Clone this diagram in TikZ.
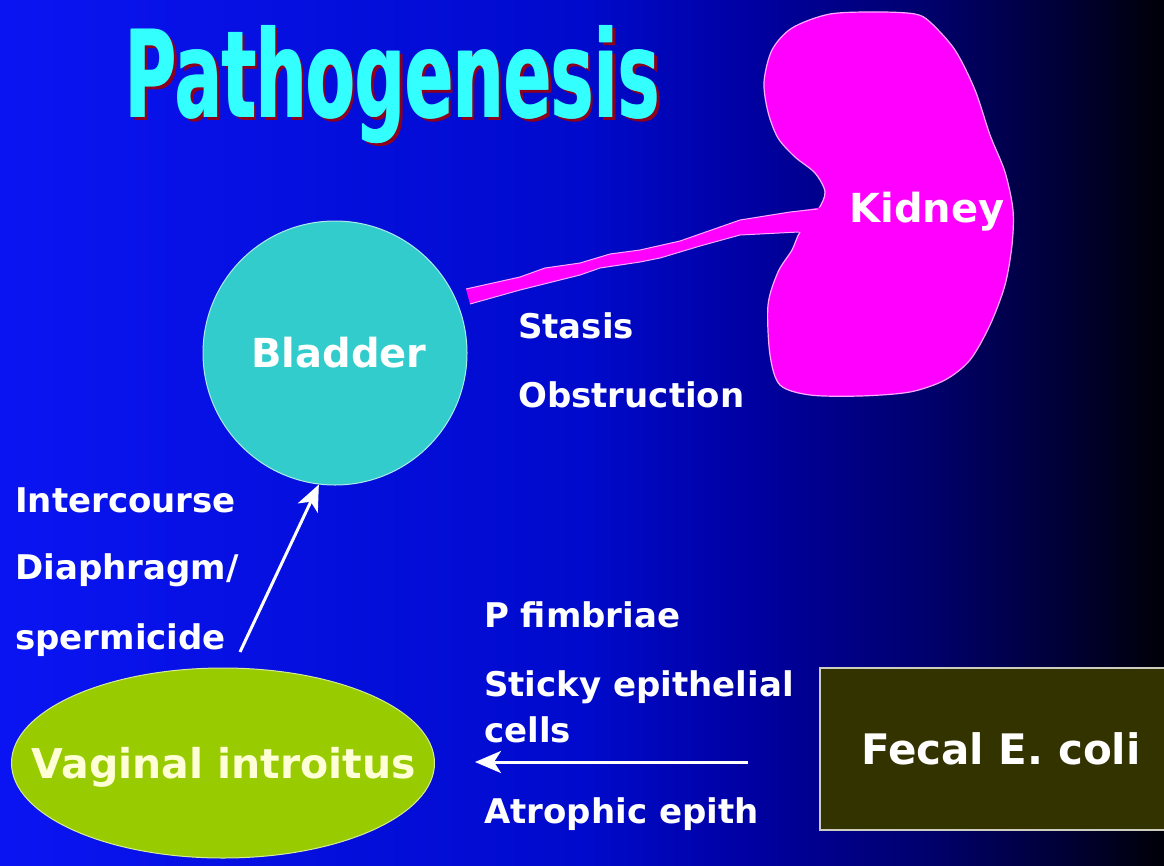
\documentclass[tikz,border=0pt]{standalone}
\usepackage{fontspec}
\setmainfont{DejaVu Sans}
\usepackage{graphicx}
\usetikzlibrary{arrows.meta, shapes.geometric}

\definecolor{bladdercyan}{RGB}{51,204,204}
\definecolor{kidneypink}{RGB}{255,0,255}
\definecolor{kidneyrim}{RGB}{255,170,255}
\definecolor{introgreen}{RGB}{153,204,0}
\definecolor{fecalbrown}{RGB}{51,51,0}
\definecolor{titlecyan}{RGB}{51,255,255}
\definecolor{titleshadow}{RGB}{140,0,30}
\definecolor{introtext}{RGB}{255,255,215}

% tikz maps the 25bp--75bp band of the shading onto the path
\pgfdeclarehorizontalshading{slidebg}{100bp}{rgb(0bp)=(0.04,0.08,0.95); rgb(25bp)=(0.04,0.08,0.95); rgb(50bp)=(0,0.04,0.80); rgb(57bp)=(0,0,0.64); rgb(65bp)=(0,0,0.42); rgb(71bp)=(0,0,0.20); rgb(75bp)=(0,0,0.03); rgb(100bp)=(0,0,0.03)}

\newcommand{\titleword}{\resizebox{535pt}{92pt}{\bfseries Pathogenesis}}

\begin{document}
\begin{tikzpicture}[x=1pt, y=-1pt,
  label/.style={text=white, font=\bfseries\fontsize{34}{40}\selectfont, inner sep=0pt, anchor=base west},
  organ/.style={text=white, font=\bfseries\fontsize{40}{46}\selectfont, inner sep=0pt},
  flow/.style={draw=white, line width=3pt, -{Stealth[length=26pt, width=22pt, inset=7pt]}}]

% Slide background
\useasboundingbox (0,0) rectangle (1164,865);
\clip (0,0) rectangle (1164,865);
\shade[shading=slidebg] (0,0) rectangle (1164,865);

% Title with drop shadow
\node[text=titleshadow, inner sep=0pt, anchor=base west] (titleback) at (128,120) {\titleword};
\node[text=titlecyan, inner sep=0pt, anchor=base west] (titlebold) at (125.5,117) {\titleword};
\node[text=titlecyan, inner sep=0pt, anchor=base west] (title) at (124,117) {\titleword};

% Kidney
\draw[fill=kidneypink, draw=kidneyrim, line width=1.2pt] plot[smooth cycle, tension=0.5] coordinates {
  (930,22) (955,50) (975,90) (990,135) (1005,172) (1013,210) (1012,245) (1005,285)
  (990,325) (970,360) (945,380) (910,392) (860,396) (810,395) (780,385) (770,355)
  (768,305) (778,272) (792,250) (800,232) (818,210) (825,192) (815,173) (795,157)
  (778,138) (768,112) (764,82) (772,50) (792,28) (830,14) (880,12) (915,14)};

% Ureter
\fill[kidneypink] (466,289) -- (520,277) -- (545,268) -- (580,263) -- (610,254) -- (640,250)
  -- (680,241) -- (740,220) -- (790,212) -- (830,206) -- (830,236) -- (798,232) -- (740,235)
  -- (700,246) -- (660,258) -- (640,262) -- (600,268) -- (580,275) -- (520,290) -- (470,304) -- cycle;
\draw[kidneyrim, line width=1pt] (466,289) -- (520,277) -- (545,268) -- (580,263) -- (610,254)
  -- (640,250) -- (680,241) -- (740,220) -- (790,212) -- (818,209);
\draw[kidneyrim, line width=1pt] (799,232) -- (740,235) -- (700,246) -- (660,258) -- (640,262)
  -- (600,268) -- (580,275) -- (520,290) -- (470,304);

\node[organ] (kidney) at (927,212) {Kidney};

% Bladder
\node[circle, fill=bladdercyan, draw=white!60!bladdercyan, line width=1pt,
  minimum size=264pt, inner sep=0pt, organ] (bladder) at (335,353) {\hspace*{8pt}Bladder};

% Vaginal introitus
\node[ellipse, fill=introgreen, draw=white!60!introgreen, line width=1pt,
  minimum width=423pt, minimum height=190pt, inner sep=0pt] (introitus) at (223,763) {};
\node[organ, text=introtext, font=\bfseries\fontsize{41}{46}\selectfont]
  (introlbl) at (224,767) {Vaginal introitus};

% Fecal E. coli box
\node[rectangle, fill=fecalbrown, draw=white!75!fecalbrown, line width=1.2pt,
  minimum width=362pt, minimum height=162pt, inner sep=0pt, organ,
  font=\bfseries\fontsize{42}{46}\selectfont] (ecoli) at (1001,749) {Fecal E. coli};

% Labels
\node[label] (stasis) at (518,338) {Stasis};
\node[label] (obstruction) at (518,407) {Obstruction};
\node[label] (intercourse) at (15,512) {Intercourse};
\node[label] (diaphragm) at (15,579) {Diaphragm/};
\node[label] (spermicide) at (15,649) {spermicide};
\node[label] (fimbriae) at (484,627) {P fimbriae};
\node[label] (sticky) at (484,696) {Sticky epithelial};
\node[label] (cells) at (484,742) {cells};
\node[label] (atrophic) at (484,823) {Atrophic epith};

% Arrows
\coordinate (spermTail) at (240,652);
\draw[flow] (spermTail) -- (bladder.-97);
\coordinate (fecalTail) at (748,762);
\draw[flow, shorten >=40pt] (fecalTail) -- (introitus.east |- fecalTail);

\end{tikzpicture}
\end{document}
